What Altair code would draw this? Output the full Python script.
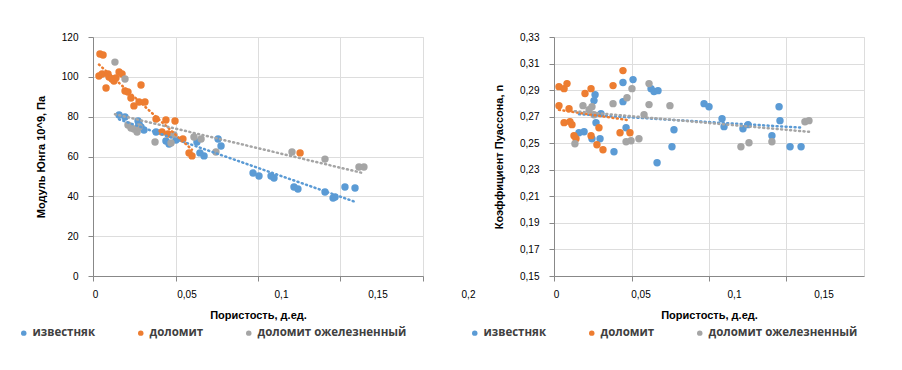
import altair as alt
import pandas as pd

SERIES = ["известняк", "доломит", "доломит ожелезненный"]
COLORS = ["#5B9BD5", "#ED7D31", "#A5A5A5"]

# ---- Left chart: Young's modulus vs porosity ----
L_por_izv = [0.0158, 0.0194, 0.0273, 0.0279, 0.0291, 0.0309, 0.0382, 0.0442, 0.0461, 0.0503,
             0.0630, 0.0648, 0.0673, 0.0758, 0.0776, 0.0970, 0.1006, 0.1079, 0.1097, 0.1218,
             0.1242, 0.1406, 0.1455, 0.1467, 0.1527, 0.1588]
L_E_izv = [80.8, 79.8, 77.8, 76.3, 74.8, 73.3, 72.3, 67.8, 66.3, 68.3,
           67.3, 61.8, 60.3, 68.8, 65.3, 51.7, 50.2, 50.2, 49.2, 44.7,
           43.7, 42.2, 39.2, 39.7, 44.7, 44.2]

L_por_dol = [0.0042, 0.0061, 0.0036, 0.0055, 0.0091, 0.0097, 0.0115, 0.0127, 0.0139, 0.0079,
             0.0158, 0.0176, 0.0194, 0.0212, 0.0230, 0.0291, 0.0248, 0.0279, 0.0315, 0.0382,
             0.0442, 0.0497, 0.0418, 0.0455, 0.0545, 0.0582, 0.0600, 0.1255]
L_E_dol = [111.5, 111.0, 100.4, 101.4, 101.4, 99.9, 98.9, 97.9, 99.4, 94.4,
           102.4, 101.4, 92.9, 92.4, 89.4, 95.9, 85.4, 87.4, 87.4, 78.8,
           78.3, 77.8, 72.3, 71.3, 68.8, 61.8, 60.3, 61.8]

L_por_dolFe = [0.0133, 0.0194, 0.0212, 0.0230, 0.0248, 0.0267, 0.0279, 0.0376, 0.0473, 0.0491,
               0.0612, 0.0655, 0.0745, 0.1206, 0.1406, 0.1612, 0.1642]
L_E_dolFe = [107.4, 98.9, 75.8, 74.3, 73.8, 72.3, 74.8, 67.3, 66.8, 70.8,
             69.8, 68.8, 62.3, 62.3, 58.7, 54.7, 54.7]

# ---- Right chart: Poisson's ratio vs porosity ----
R_por_izv = [0.0161, 0.0194, 0.0245, 0.0297, 0.0265, 0.0258, 0.0271, 0.0303, 0.0387, 0.0445,
             0.0445, 0.0465, 0.0510, 0.0626, 0.0645, 0.0671, 0.0665, 0.0761, 0.0774, 0.0968,
             0.1000, 0.1084, 0.1097, 0.1219, 0.1252, 0.1406, 0.1452, 0.1458, 0.1523, 0.1594]
R_nu_izv = [0.2579, 0.2587, 0.2534, 0.2534, 0.2866, 0.2821, 0.2655, 0.2723, 0.2436, 0.2957,
            0.2813, 0.2617, 0.2979, 0.2911, 0.2889, 0.2896, 0.2353, 0.2474, 0.2602, 0.2798,
            0.2775, 0.2685, 0.2625, 0.2609, 0.2640, 0.2557, 0.2775, 0.2670, 0.2474, 0.2474]

R_por_dol = [0.0032, 0.0065, 0.0084, 0.0032, 0.0097, 0.0065, 0.0103, 0.0116, 0.0129, 0.0142,
             0.0200, 0.0239, 0.0239, 0.0290, 0.0277, 0.0316, 0.0381, 0.0445, 0.0426, 0.0490]
R_nu_dol = [0.2926, 0.2911, 0.2949, 0.2783, 0.2760, 0.2655, 0.2662, 0.2640, 0.2557, 0.2534,
            0.2874, 0.2911, 0.2557, 0.2617, 0.2489, 0.2451, 0.2934, 0.3047, 0.2579, 0.2579]

R_por_dolFe = [0.0135, 0.0187, 0.0226, 0.0245, 0.0258, 0.0381, 0.0471, 0.0503, 0.0465, 0.0497,
               0.0548, 0.0613, 0.0613, 0.0581, 0.0748, 0.1206, 0.1258, 0.1406, 0.1619, 0.1645]
R_nu_dolFe = [0.2496, 0.2783, 0.2753, 0.2775, 0.2715, 0.2798, 0.2843, 0.2911, 0.2511, 0.2519,
              0.2534, 0.2949, 0.2791, 0.2715, 0.2783, 0.2474, 0.2504, 0.2511, 0.2662, 0.2670]

L_X_TICKS = [0, 0.05, 0.1, 0.15, 0.2]
R_X_TICKS = [0, 0.05, 0.1, 0.15]
L_Y_TICKS = [0, 20, 40, 60, 80, 100, 120]
R_Y_TICKS = [0.15, 0.17, 0.19, 0.21, 0.23, 0.25, 0.27, 0.29, 0.31, 0.33]


def frame(xs_list, ys_list):
    rows = []
    for s, xs, ys in zip(SERIES, xs_list, ys_list):
        for x, y in zip(xs, ys):
            rows.append({"x": x, "y": y, "series": s})
    return pd.DataFrame(rows)


left_df = frame([L_por_izv, L_por_dol, L_por_dolFe], [L_E_izv, L_E_dol, L_E_dolFe])
right_df = frame([R_por_izv, R_por_dol, R_por_dolFe], [R_nu_izv, R_nu_dol, R_nu_dolFe])

color_scale = alt.Scale(domain=SERIES, range=COLORS)


def offsets(o00, o05, o10, o15, o20):
    return {
        "condition": [
            {"test": "datum.value > 0.19", "value": o20},
            {"test": "datum.value > 0.14", "value": o15},
            {"test": "datum.value > 0.09", "value": o10},
            {"test": "datum.value > 0.04", "value": o05},
        ],
        "value": o00,
    }


def make_panel(df, y_title, y_domain, y_ticks, x_ticks, y_fmt, legend_x, width,
               filter_orange, label_offset):
    x_enc = alt.X(
        "x:Q",
        scale=alt.Scale(domain=[0, 0.2], nice=False),
        axis=alt.Axis(values=x_ticks, tickCount=len(x_ticks), title="Пористость, д.ед.",
                      labelExpr="replace(format(datum.value, '.2~f'), '.', ',')",
                      labelFlush=False, labelOverlap=False,
                      labelPadding=8, titlePadding=10, labelOffset=label_offset),
    )
    y_enc = alt.Y(
        "y:Q",
        scale=alt.Scale(domain=y_domain, nice=False, zero=False),
        axis=alt.Axis(values=y_ticks, tickCount=len(y_ticks), title=y_title,
                      labelExpr="replace(format(datum.value, '" + y_fmt + "'), '.', ',')",
                      labelFlush=False, labelOverlap=False,
                      labelPadding=10, titlePadding=15),
    )
    legend = alt.Legend(orient="none", legendX=legend_x, legendY=290, direction="horizontal",
                        title=None, symbolType="circle", symbolSize=30, symbolStrokeWidth=0,
                        labelFont="Open Sans", labelFontSize=11.5, labelFontWeight="bold",
                        labelColor="#404040", columnPadding=39, labelOffset=3, padding=0)
    points = alt.Chart(df).mark_circle(size=55, opacity=1).encode(
        x=x_enc, y=y_enc,
        color=alt.Color("series:N", scale=color_scale, sort=SERIES, legend=legend),
    )
    base = alt.Chart(df)
    if filter_orange:
        base = base.transform_filter("datum.series != 'доломит' || datum.x < 0.1")
    trend = base.transform_regression("x", "y", groupby=["series"]).mark_line(
        strokeDash=[1, 3.5], strokeWidth=2.5, strokeCap="round"
    ).encode(
        x="x:Q", y="y:Q",
        color=alt.Color("series:N", scale=color_scale, sort=SERIES, legend=None),
    )
    return alt.layer(points, trend).properties(width=width, height=239)


left = make_panel(left_df, "Модуль Юнга 10^9, Па", [0, 120], L_Y_TICKS, L_X_TICKS, "d",
                  -75, 330, True, offsets(2, 11, 23, 37, 45))
right = make_panel(right_df, "Коэффициент Пуассона, n", [0.15, 0.33], R_Y_TICKS, R_X_TICKS, ".2f",
                   -85, 310, False, offsets(2, 9, 25, 37, 45))

chart = alt.hconcat(left, right, spacing=131, bounds="flush").resolve_scale(
    color="independent"
).properties(
    padding={"left": 9, "top": 23, "right": 5, "bottom": 5}
).configure_axis(
    gridColor="#d9d9d9", gridWidth=1, domain=False, ticks=False,
    labelFont="Open Sans", labelFontSize=11, labelColor="#595959",
    titleFont="Open Sans", titleFontSize=12, titleColor="#404040", titleFontWeight="normal",
).configure_view(stroke="#d9d9d9").configure(background="white")

chart.save("out.html", embed_options={"renderer": "svg", "actions": False})
